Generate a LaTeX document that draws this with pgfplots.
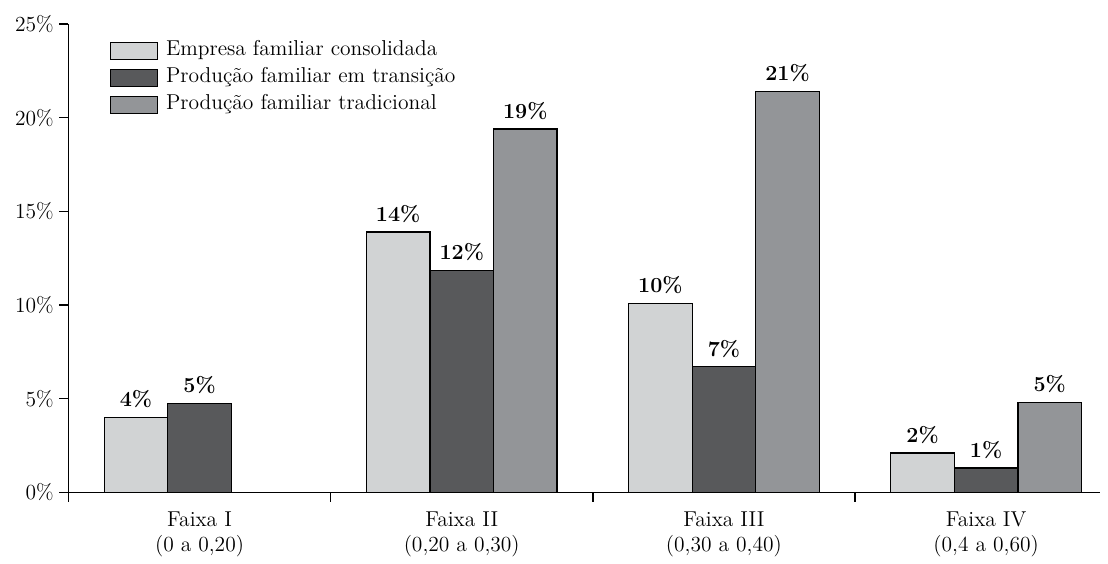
\documentclass[border=0pt]{standalone}
\usepackage{pgfplots}
\pgfplotsset{compat=1.18}
\definecolor{c1}{HTML}{D1D3D4}
\definecolor{c2}{HTML}{58595B}
\definecolor{c3}{HTML}{939598}
\begin{document}
\fontsize{11}{12.3}\selectfont
\begin{tikzpicture}
\begin{axis}[
  name=ax,
  scale only axis, width=527.6pt, height=239.5pt,
  xmin=-0.5, xmax=3.435, ymin=0, ymax=25,
  axis x line*=bottom, axis y line*=left,
  axis line style={line width=0.7pt},
  ytick={0,5,10,15,20,25},
  yticklabel={\pgfmathprintnumber{\tick}\%},
  yticklabel style={inner sep=2.5pt},
  /pgf/number format/assume math mode=true,
  tick align=outside,
  major tick length=4.8pt,
  tick style={line width=0.7pt, black},
  xtick={0,1,2,3},
  xticklabels={{Faixa I\\(0 a 0,20)},{Faixa II\\(0,20 a 0,30)},{Faixa III\\(0,30 a 0,40)},{Faixa IV\\(0,4 a 0,60)}},
  xticklabel style={align=center, yshift=-1.5pt},
  x tick style={draw=none},
  extra x ticks={-0.5,0.5,1.5,2.5},
  extra x tick labels={},
  extra x tick style={x tick style={draw=black, line width=0.7pt}},
  ybar,
  bar width=0.2424,
  nodes near coords={\pgfmathprintnumber[fixed,precision=0]{\pgfplotspointmeta}\%},
  every node near coord/.append style={font=\bfseries, inner sep=4.5pt},
  legend style={draw=none, fill=none, at={(0.04,1)}, anchor=north west, yshift=-8.5pt,
    inner sep=0pt, row sep=3.8pt, column sep=4pt,
    nodes={inner sep=0pt, text height=7.5pt, text depth=2.5pt}},
  legend cell align=left,
  legend image code/.code={\draw[#1, line width=0.6pt] (0pt,-4.35pt) rectangle (24pt,4.35pt);},
]
\addplot[fill=c1, draw=black, line width=0.6pt, bar shift=-0.2424] coordinates {(0,4.0) (1,13.9) (2,10.1) (3,2.1)};
\addplot[fill=c2, draw=black, line width=0.6pt, bar shift=0] coordinates {(0,4.75) (1,11.85) (2,6.7) (3,1.3)};
\addplot[fill=c3, draw=black, line width=0.6pt, bar shift=0.2424] coordinates {(1,19.4) (2,21.4) (3,4.8)};
\legend{Empresa familiar consolidada, Produção familiar em transição, Produção familiar tradicional}
\end{axis}
\path ([shift={(-35pt,-32.2pt)}]ax.south west) rectangle ([shift={(4pt,12.3pt)}]ax.north east);
\end{tikzpicture}
\end{document}
